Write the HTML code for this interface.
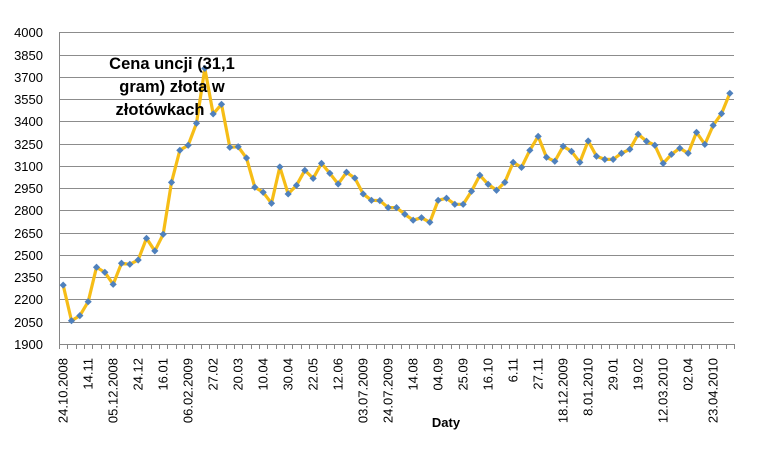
<!DOCTYPE html>
<html><head><meta charset="utf-8"><style>
html,body{margin:0;padding:0;background:#fff;width:779px;height:449px;overflow:hidden}
svg text{font-family:"Liberation Sans",sans-serif}
</style></head><body>
<svg id="chart" width="779" height="449" xmlns="http://www.w3.org/2000/svg">
<rect x="0" y="0" width="778" height="448" fill="#fff"/>
<g id="grid"></g>
<g id="yt"></g>
<g id="xt"></g>
<g id="series"></g>
<text x="446" y="427" font-size="13" font-weight="bold" text-anchor="middle" fill="#000">Daty</text>
<text font-size="16.5" font-weight="bold" text-anchor="middle" fill="#000"><tspan x="172" y="69">Cena uncji (31,1</tspan><tspan x="172" y="92">gram) złota w</tspan><tspan x="160" y="115">złotówkach</tspan></text>
</svg>
<script>
const values=[2297,2057,2091,2185,2417,2383,2302,2444,2437,2466,2612,2527,2639,2989,3205,3239,3387,3757,3450,3515,3225,3229,3153,2956,2922,2848,3093,2911,2969,3070,3016,3117,3050,2978,3057,3018,2911,2868,2866,2819,2819,2774,2734,2751,2720,2868,2882,2841,2841,2929,3037,2976,2936,2989,3124,3090,3205,3299,3158,3131,3232,3198,3124,3268,3165,3144,3144,3185,3212,3313,3266,3239,3117,3178,3219,3185,3326,3245,3373,3452,3589];
const dateLabels=["24.10.2008","14.11","05.12.2008","24.12","16.01","06.02.2009","27.02","20.03","10.04","30.04","22.05","12.06","03.07.2009","24.07.2009","14.08","04.09","25.09","16.10","6.11","27.11","18.12.2009","8.01.2010","29.01","19.02","12.03.2010","02.04","23.04.2010"];
const yTicks=[1900,2050,2200,2350,2500,2650,2800,2950,3100,3250,3400,3550,3700,3850,4000];
const NS="http://www.w3.org/2000/svg";
const L=59,R=734,T=32.3,B=344,yMin=1900,yMax=4000;
const n=values.length,cw=(R-L)/n;
const X=i=>L+cw*(i+0.5);
const Y=v=>B-(v-yMin)/(yMax-yMin)*(B-T);
function mk(tag,attrs,parent){const e=document.createElementNS(NS,tag);for(const k in attrs)e.setAttribute(k,attrs[k]);parent.appendChild(e);return e;}
const grid=document.getElementById('grid'),yt=document.getElementById('yt'),xt=document.getElementById('xt'),ser=document.getElementById('series');
yTicks.forEach(v=>{
  const y=Math.round(Y(v))+0.5;
  const ln=mk('line',{x1:L,x2:R,y1:y,y2:y,stroke:v===yMin?'#868686':'#8c8c8c','stroke-width':1},grid);
  
  
  const t=mk('text',{x:43,y:y+4.5,'font-size':13,'text-anchor':'end',fill:'#000'},yt);
  t.textContent=v;
  
  
});
const ax=mk('line',{x1:L+0.5,x2:L+0.5,y1:T,y2:B,stroke:'#868686'},grid);


for(let i=0;i<=n;i++){
  const x=Math.round(L+cw*i)+0.5;
  const tk=mk('line',{x1:x,x2:x,y1:B,y2:B+5,stroke:'#868686'},grid);
  
  
}
dateLabels.forEach((s,k)=>{
  const x=X(k*3)+4.5;
  const t=mk('text',{x:0,y:0,'font-size':13,'text-anchor':'end',fill:'#000',transform:`translate(${x},358) rotate(-90)`},xt);
  t.textContent=s;
  
  
});
const pl=mk('polyline',{points:values.map((v,i)=>X(i)+','+Y(v)).join(' '),fill:'none',stroke:'#f6bd16','stroke-width':3.2,'stroke-linejoin':'round'},ser);


values.forEach((v,i)=>{
  const x=X(i),y=Y(v);
  const p=mk('polygon',{points:`${x},${y-3.6} ${x+3.6},${y} ${x},${y+3.6} ${x-3.6},${y}`,fill:'#4f81bd'},ser);
  
  
});
</script>
</body></html>
